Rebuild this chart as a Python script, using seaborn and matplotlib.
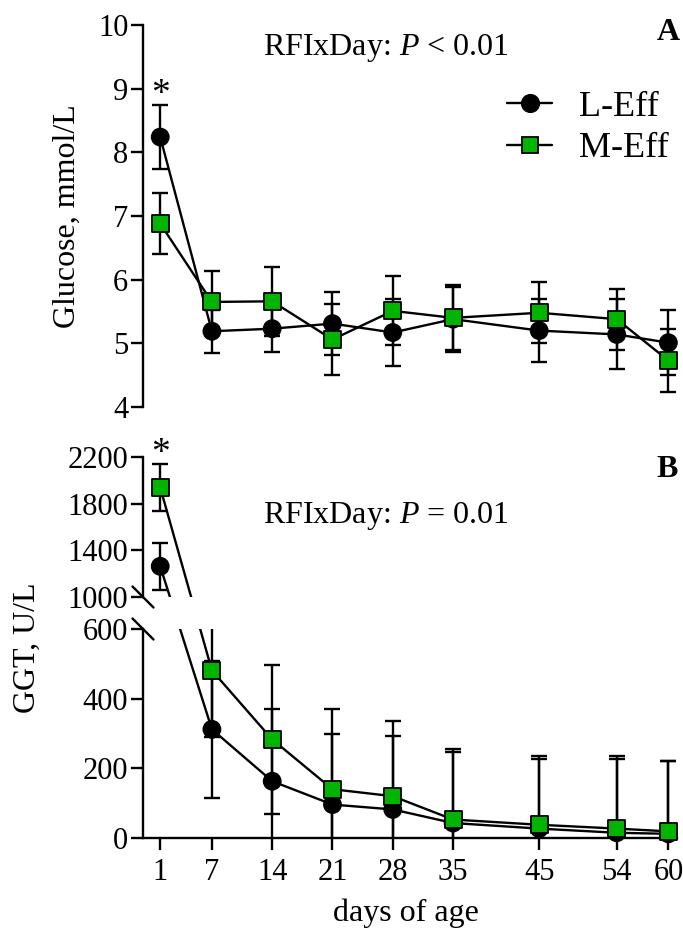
import numpy as np
import pandas as pd
import matplotlib
matplotlib.use("Agg")
import matplotlib.pyplot as plt
import seaborn as sns
from matplotlib.lines import Line2D

# ---------------- data ----------------
days = [1, 7, 14, 21, 28, 35, 45, 54, 60]
groups = ["L-Eff", "M-Eff"]

glucose_L = [8.24, 5.19, 5.23, 5.31, 5.17, 5.38, 5.20, 5.14, 5.01]
glucose_L_se = [0.50, 0.34, 0.37, 0.50, 0.53, 0.51, 0.50, 0.55, 0.51]
glucose_M = [6.88, 5.65, 5.66, 5.06, 5.51, 5.40, 5.48, 5.38, 4.73]
glucose_M_se = [0.48, 0.48, 0.54, 0.56, 0.54, 0.51, 0.48, 0.48, 0.50]

ggt_L = [1263, 312, 163, 96, 82, 43, 27, 15, 12]
ggt_L_se = [200, 197, 207, 204, 211, 205, 201, 213, 209]
ggt_M = [1938, 481, 283, 140, 120, 53, 38, 27, 19]
ggt_M_se = [200, 190, 214, 230, 216, 202, 198, 209, 202]

glu_yticks = [4, 5, 6, 7, 8, 9, 10]
ggt_hi_yticks = [1000, 1400, 1800, 2200]
ggt_lo_yticks = [0, 200, 400, 600]

text_A = r"RFIxDay: $P$ < 0.01"
text_B = r"RFIxDay: $P$ = 0.01"

GREEN = "#00B400"

def make_df(vl, sl, vm, sm):
    return pd.DataFrame({
        "day": days + days,
        "group": [groups[0]] * len(days) + [groups[1]] * len(days),
        "value": vl + vm,
        "se": sl + sm,
    })

glu = make_df(glucose_L, glucose_L_se, glucose_M, glucose_M_se)
ggt = make_df(ggt_L, ggt_L_se, ggt_M, ggt_M_se)

# ---------------- style ----------------
sns.set_theme(style="ticks")
plt.rcParams["font.family"] = ["Liberation Serif", "DejaVu Serif"]
plt.rcParams["mathtext.fontset"] = "custom"
plt.rcParams["mathtext.rm"] = "Liberation Serif"
plt.rcParams["mathtext.it"] = "Liberation Serif:italic"
plt.rcParams["axes.linewidth"] = 1.7
for k in ("text.color", "axes.labelcolor", "xtick.color", "ytick.color", "axes.edgecolor"):
    plt.rcParams[k] = "black"

W, H = 683, 930
fig = plt.figure(figsize=(W / 100, H / 100), dpi=100)

def px_ax(l, t, r, b):
    return fig.add_axes([l / W, 1 - b / H, (r - l) / W, (b - t) / H])

ax_a = px_ax(143, 25, 677, 407)
ax_hi = px_ax(143, 457, 677, 597)
ax_lo = px_ax(143, 629, 677, 838)

LW = 1.7
pal = {"L-Eff": "black", "M-Eff": GREEN}
mk = {"L-Eff": "o", "M-Eff": "s"}

def draw(ax, df, lines=True):
    for g, zo in zip(groups, [2, 2.5]):
        d = df[df.group == g]
        ax.errorbar(d.day, d.value, yerr=d.se, fmt="none", ecolor="black",
                    elinewidth=LW, capsize=6, capthick=LW, zorder=zo)
    if lines:
        sns.lineplot(data=df, x="day", y="value", hue="group",
                     palette={"L-Eff": "black", "M-Eff": "black"},
                     linewidth=LW, legend=False, ax=ax, zorder=3)
    sns.scatterplot(data=df, x="day", y="value", hue="group", style="group",
                    palette=pal, markers=mk, s=150, edgecolor="black",
                    linewidth=1.3, legend=False, ax=ax, zorder=4, clip_on=False)

for ax in (ax_a, ax_hi, ax_lo):
    ax.set_xlim(-1, 61)
ax_a.set_ylim(4, 10)
ax_hi.set_ylim(1000, 2200)
ax_lo.set_ylim(0, 600)

draw(ax_a, glu)
draw(ax_hi, ggt[ggt.day == days[0]], lines=False)
draw(ax_lo, ggt[ggt.day > days[0]])

for ax in (ax_a, ax_hi, ax_lo):
    ax.set_xlim(-1, 61)
ax_a.set_ylim(4, 10)
ax_hi.set_ylim(1000, 2200)
ax_lo.set_ylim(0, 600)

# lines crossing the axis break (straight in screen space)
for g in groups:
    d = ggt[ggt.group == g].set_index("day")
    v1, v7 = d.loc[days[0], "value"], d.loc[days[1], "value"]
    p1 = ax_hi.transData.transform((days[0], v1))
    p7 = ax_lo.transData.transform((days[1], v7))
    y7_hi = ax_hi.transData.inverted().transform(p7)[1]
    y1_lo = ax_lo.transData.inverted().transform(p1)[1]
    ax_hi.plot([days[0], days[1]], [v1, y7_hi], color="black", lw=LW, zorder=3)
    ax_lo.plot([days[0], days[1]], [y1_lo, v7], color="black", lw=LW, zorder=3)

for ax in (ax_a, ax_hi, ax_lo):
    ax.set_xlim(-1, 61)
    sns.despine(ax=ax)
    ax.tick_params(axis="both", direction="out", length=8.6, width=LW,
                   labelsize=22, colors="black")
    ax.tick_params(axis="y", pad=2)
    ax.tick_params(axis="x", pad=6)
    ax.set_xlabel("")
    ax.set_ylabel("")
ax_a.set_ylim(4, 10)
ax_hi.set_ylim(1000, 2200)
ax_lo.set_ylim(0, 600)

ax_a.set_yticks(glu_yticks)
ax_hi.set_yticks(ggt_hi_yticks)
ax_lo.set_yticks(ggt_lo_yticks)
ax_lo.set_xticks(days)
ax_lo.set_xticklabels([str(d) for d in days])

for ax in (ax_a, ax_hi):
    ax.spines["bottom"].set_visible(False)
    ax.tick_params(axis="x", bottom=False, labelbottom=False)

# break marks
pos_hi = ax_hi.get_position()
pos_lo = ax_lo.get_position()
dx, dy = 10.5 / W, 10.5 / H
for yb in (pos_hi.y0, pos_lo.y1):
    fig.add_artist(Line2D([pos_hi.x0 - dx, pos_hi.x0 + dx], [yb + dy, yb - dy],
                          transform=fig.transFigure, color="black", lw=LW))

# significance asterisks
for ax, df in ((ax_a, glu), (ax_hi, ggt)):
    d = df[df.day == days[0]]
    top = (d.value + d.se).max()
    ax.annotate("*", xy=(days[0], top), xytext=(0, 1), textcoords="offset points",
                ha="center", va="baseline", fontsize=27, annotation_clip=False)

# legend
handles = [
    Line2D([], [], color="black", lw=LW, marker="o", markersize=12.5,
           markerfacecolor="black", markeredgecolor="black", markeredgewidth=1.3),
    Line2D([], [], color="black", lw=LW, marker="s", markersize=12,
           markerfacecolor=GREEN, markeredgecolor="black", markeredgewidth=1.3),
]
ax_a.legend(handles, groups, loc="center left", bbox_to_anchor=(507 / W, 1 - 128 / H),
            bbox_transform=fig.transFigure, frameon=False, fontsize=26,
            handlelength=1.25, handletextpad=0.75, labelspacing=0.22,
            borderpad=0, borderaxespad=0)

# texts
fig.text(386 / W, 1 - 55 / H, text_A, ha="center", va="baseline", fontsize=23)
fig.text(386 / W, 1 - 523 / H, text_B, ha="center", va="baseline", fontsize=23)
fig.text(680 / W, 1 - 40 / H, "A", ha="right", va="baseline", fontsize=23, fontweight="bold")
fig.text(678 / W, 1 - 477 / H, "B", ha="right", va="baseline", fontsize=23, fontweight="bold")
fig.text(67 / W, 1 - 216 / H, "Glucose, mmol/L", rotation=90, ha="center", va="center", fontsize=23)
fig.text(27 / W, 1 - 648 / H, "GGT, U/L", rotation=90, ha="center", va="center", fontsize=23)
fig.text(406 / W, 1 - 921 / H, "days of age", ha="center", va="baseline", fontsize=23)

fig.savefig("out.png", dpi=100)
